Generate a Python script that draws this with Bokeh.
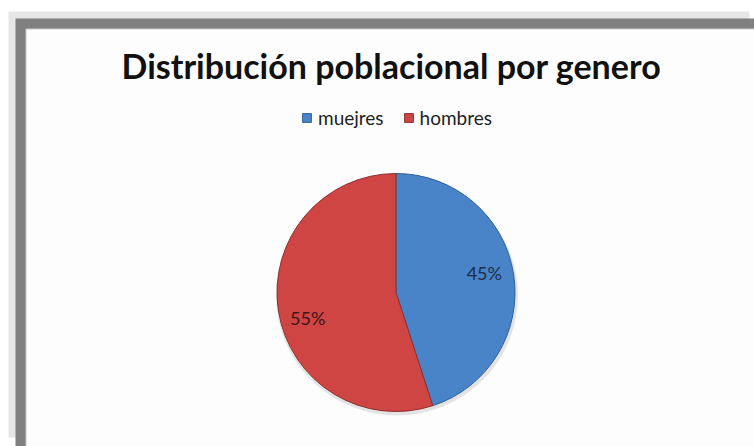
import numpy as np
from bokeh.plotting import figure
from bokeh.models import Range1d, ColumnDataSource, Legend, LegendItem
from bokeh.core.properties import value
from bokeh.embed import file_html
from bokeh.resources import INLINE

# ---- data ----
title_text = "Distribución poblacional por genero"
categories = ["muejres", "hombres"]
shares = [45, 55]
colors = ["#4a84c8", "#cf4544"]
edge_colors = ["#2f5f98", "#8e2f2d"]
label_colors = ["#1d2c48", "#3e1414"]

W, H = 754, 446
p = figure(width=W, height=H, x_range=Range1d(0, W), y_range=Range1d(0, H),
           output_backend="svg", toolbar_location=None, min_border=0)
p.axis.visible = False
p.grid.visible = False
p.outline_line_color = None
p.background_fill_color = "white"
p.border_fill_color = "white"

# frame (page coords -> figure coords: x, 446-y)
p.quad(left=[8], right=[749], bottom=[9], top=[435], fill_color="#e6e6e6", line_color=None)
p.quad(left=[15], right=[754], bottom=[0], top=[428], fill_color="#808080", line_color=None)
p.quad(left=[25], right=[754], bottom=[0], top=[418], fill_color="#c8c8c8", line_color=None)
p.quad(left=[26], right=[754], bottom=[0], top=[417], fill_color="#fdfdfd", line_color=None)

# title
p.text(x=[391], y=[381], text=[title_text], text_font=value("Lato"),
       text_font_style="bold", text_font_size="34px", text_color="#111111",
       text_align="center", text_baseline="alphabetic")

# pie
cx, cy, R = 395.5, 154, 119
vals = np.array(shares, dtype=float)
fr = vals / vals.sum()
ends = np.pi / 2 - np.concatenate([[0], np.cumsum(fr)[:-1]]) * 2 * np.pi
starts = ends - fr * 2 * np.pi
src = ColumnDataSource(dict(start=starts, end=ends, color=colors, edge=edge_colors,
                            cat=categories))

# soft shadow
p.ellipse(x=[cx + 1], y=[cy - 3], width=[2 * R + 4], height=[2 * R + 2],
          fill_color="#000000", fill_alpha=0.10, line_color=None)

r = p.wedge(x=cx, y=cy, radius=R, start_angle="start", end_angle="end",
            fill_color="color", line_color="edge", line_width=1, source=src)

mids = (starts + ends) / 2 + np.deg2rad(5)
lx = cx + 91 * np.cos(mids)
ly = cy + 91 * np.sin(mids) - 3
labels = [f"{int(v)}%" for v in shares]
p.text(x=lx, y=ly, text=labels, text_font=value("Lato"), text_font_size="18px",
       text_color=label_colors, text_align="center", text_baseline="middle")

legend = Legend(items=[LegendItem(label=c, renderers=[r], index=i) for i, c in enumerate(categories)],
                orientation="horizontal", location=(301, 317),
                glyph_width=11, glyph_height=11, label_standoff=6, spacing=19,
                padding=0, margin=0, border_line_alpha=0, background_fill_alpha=0,
                label_text_font="Lato", label_text_font_size="19px",
                label_text_color="#222222", label_height=14)
p.add_layout(legend, "center")

open("out.html", "w").write(file_html(p, INLINE))
